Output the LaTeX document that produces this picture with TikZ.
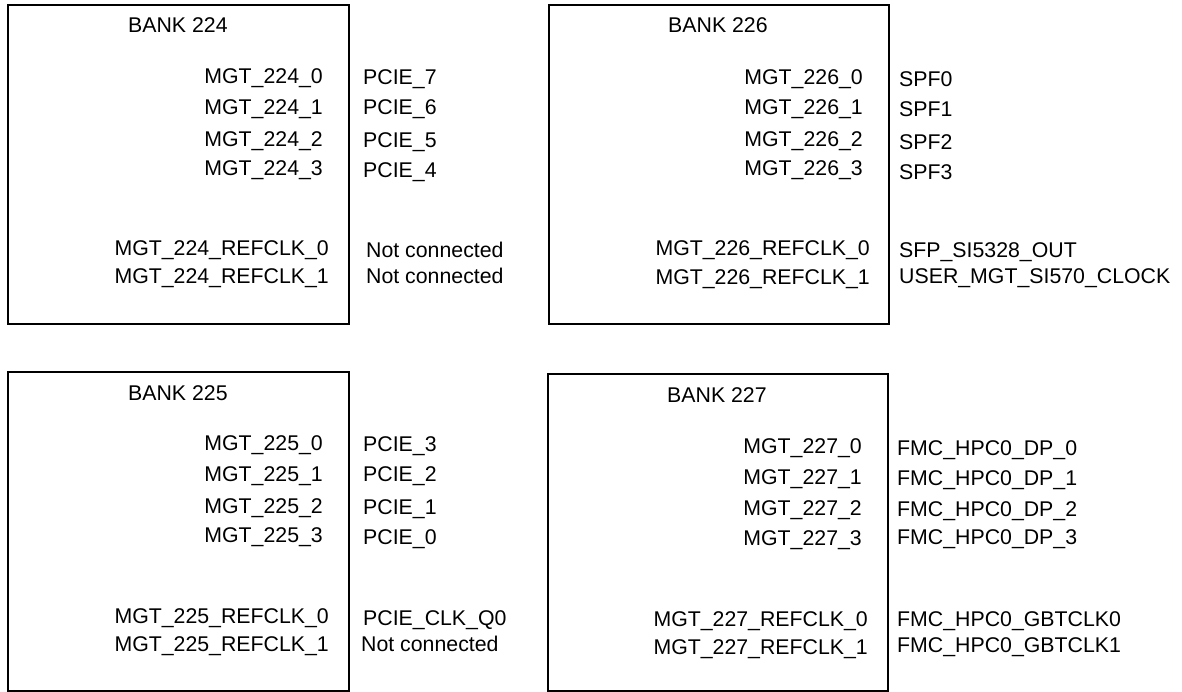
\documentclass[tikz,border=0pt]{standalone}
\usepackage{fontspec}
\setmainfont{Liberation Sans}
\usetikzlibrary{positioning}

\begin{document}
\begin{tikzpicture}
[x=1pt,y=-1pt,
font=\fontsize{21.3}{25}\selectfont,
bank/.style={rectangle,draw=black,line width=1.8pt,inner sep=0pt,anchor=north west},
title/.style={inner sep=0pt,anchor=base west},
pin/.style={inner sep=0pt,anchor=base east},
signal/.style={inner sep=0pt,anchor=base west}]
\useasboundingbox (0,0) rectangle (1182,692);
% bank 224
\node[bank,minimum width=341pt,minimum height=319pt] (b224) at (7,4) {};
\node[title] (t224) at (128,32.5) {BANK 224};
\node[pin] (p224a) at (323,83.5) {MGT\_224\_0};
\node[pin] (p224b) at (323,114.5) {MGT\_224\_1};
\node[pin] (p224c) at (323,146.5) {MGT\_224\_2};
\node[pin] (p224d) at (323,175.5) {MGT\_224\_3};
\node[pin] (r224a) at (329,255.5) {MGT\_224\_REFCLK\_0};
\node[pin] (r224b) at (329,283.5) {MGT\_224\_REFCLK\_1};
\node[signal] (s224a) at (363,84.5) {PCIE\_7};
\node[signal] (s224b) at (363,114.5) {PCIE\_6};
\node[signal] (s224c) at (363,147.5) {PCIE\_5};
\node[signal] (s224d) at (363,177.5) {PCIE\_4};
\node[signal] (c224a) at (366,257.5) {Not connected};
\node[signal] (c224b) at (366,283.5) {Not connected};
% bank 226
\node[bank,minimum width=340pt,minimum height=319pt] (b226) at (548,4) {};
\node[title] (t226) at (668,32.5) {BANK 226};
\node[pin] (p226a) at (863,84.5) {MGT\_226\_0};
\node[pin] (p226b) at (863,114.5) {MGT\_226\_1};
\node[pin] (p226c) at (863,146.5) {MGT\_226\_2};
\node[pin] (p226d) at (863,175.5) {MGT\_226\_3};
\node[pin] (r226a) at (870,255.5) {MGT\_226\_REFCLK\_0};
\node[pin] (r226b) at (870,284.5) {MGT\_226\_REFCLK\_1};
\node[signal] (s226a) at (899,86.5) {SPF0};
\node[signal] (s226b) at (899,116.5) {SPF1};
\node[signal] (s226c) at (899,149.5) {SPF2};
\node[signal] (s226d) at (899,179.5) {SPF3};
\node[signal] (c226a) at (899,257.5) {SFP\_SI5328\_OUT};
\node[signal] (c226b) at (899,283.5) {USER\_MGT\_SI570\_CLOCK};
% bank 225
\node[bank,minimum width=341pt,minimum height=319pt] (b225) at (7,371) {};
\node[title] (t225) at (128,400.5) {BANK 225};
\node[pin] (p225a) at (323,450.5) {MGT\_225\_0};
\node[pin] (p225b) at (323,481.5) {MGT\_225\_1};
\node[pin] (p225c) at (323,513.5) {MGT\_225\_2};
\node[pin] (p225d) at (323,542.5) {MGT\_225\_3};
\node[pin] (r225a) at (329,623.5) {MGT\_225\_REFCLK\_0};
\node[pin] (r225b) at (329,651.5) {MGT\_225\_REFCLK\_1};
\node[signal] (s225a) at (363,451.5) {PCIE\_3};
\node[signal] (s225b) at (363,481.5) {PCIE\_2};
\node[signal] (s225c) at (363,514.5) {PCIE\_1};
\node[signal] (s225d) at (363,544.5) {PCIE\_0};
\node[signal] (c225a) at (363,625.5) {PCIE\_CLK\_Q0};
\node[signal] (c225b) at (361,651.5) {Not connected};
% bank 227
\node[bank,minimum width=340pt,minimum height=317pt] (b227) at (547,373) {};
\node[title] (t227) at (667,402.5) {BANK 227};
\node[pin] (p227a) at (862,453.5) {MGT\_227\_0};
\node[pin] (p227b) at (862,484.5) {MGT\_227\_1};
\node[pin] (p227c) at (862,515.5) {MGT\_227\_2};
\node[pin] (p227d) at (862,545.5) {MGT\_227\_3};
\node[pin] (r227a) at (868,626.5) {MGT\_227\_REFCLK\_0};
\node[pin] (r227b) at (868,654.5) {MGT\_227\_REFCLK\_1};
\node[signal] (s227a) at (897,455.5) {FMC\_HPC0\_DP\_0};
\node[signal] (s227b) at (897,485.5) {FMC\_HPC0\_DP\_1};
\node[signal] (s227c) at (897,516.5) {FMC\_HPC0\_DP\_2};
\node[signal] (s227d) at (897,544.5) {FMC\_HPC0\_DP\_3};
\node[signal] (c227a) at (897,626.5) {FMC\_HPC0\_GBTCLK0};
\node[signal] (c227b) at (897,652.5) {FMC\_HPC0\_GBTCLK1};
\end{tikzpicture}
\end{document}
